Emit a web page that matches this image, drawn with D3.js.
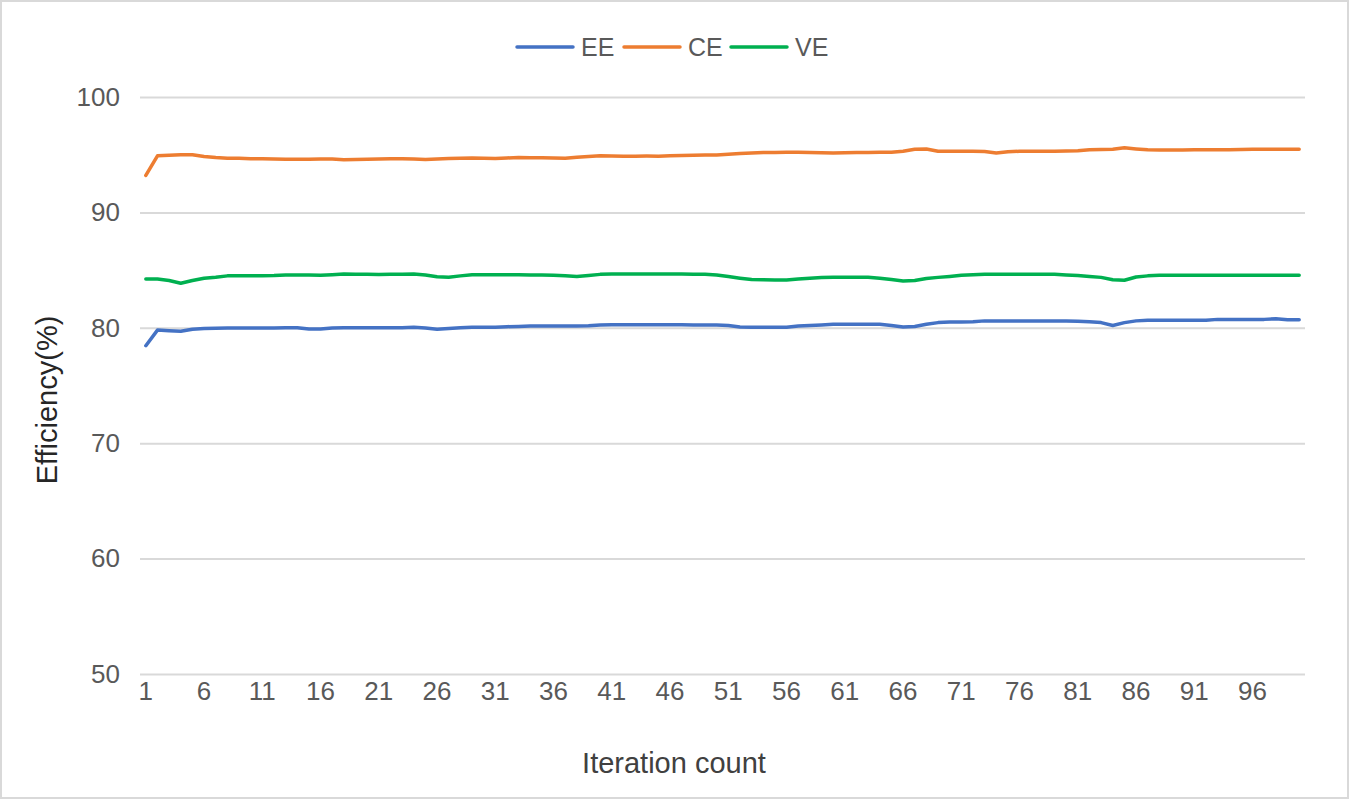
<!DOCTYPE html>
<html>
<head>
<meta charset="utf-8">
<script src="https://cdn.jsdelivr.net/npm/d3@7"></script>
<style>
  body { margin: 0; background: #fff; }
  svg { display: block; }
</style>
</head>
<body>
<svg id="chart" width="1350" height="801"></svg>
<script>
// values, iterations 1..100
var iterations = d3.range(1, 101);
var ee = [78.45, 79.8, 79.75, 79.7, 79.88, 79.93, 79.97, 79.98, 79.98, 79.98,
          79.98, 79.98, 80.0, 80.0, 79.9, 79.9, 79.98, 80.0, 80.0, 80.0,
          80.0, 80.0, 80.0, 80.05, 79.98, 79.88, 79.93, 80.0, 80.05, 80.05,
          80.05, 80.1, 80.12, 80.15, 80.15, 80.15, 80.15, 80.15, 80.17, 80.25,
          80.27, 80.27, 80.27, 80.27, 80.27, 80.27, 80.27, 80.25, 80.25, 80.25,
          80.2, 80.07, 80.05, 80.05, 80.05, 80.05, 80.15, 80.2, 80.25, 80.3,
          80.3, 80.3, 80.3, 80.3, 80.2, 80.07, 80.12, 80.3, 80.45, 80.5,
          80.5, 80.52, 80.6, 80.6, 80.6, 80.6, 80.6, 80.6, 80.6, 80.6,
          80.57, 80.52, 80.45, 80.2, 80.45, 80.6, 80.65, 80.65, 80.65, 80.65,
          80.65, 80.65, 80.73, 80.73, 80.73, 80.73, 80.73, 80.78, 80.7, 80.7];
var ce = [93.2, 94.9, 94.95, 95.0, 95.0, 94.85, 94.75, 94.7, 94.7, 94.65,
          94.65, 94.62, 94.6, 94.6, 94.6, 94.62, 94.63, 94.57, 94.58, 94.6,
          94.62, 94.64, 94.65, 94.63, 94.58, 94.62, 94.67, 94.7, 94.72, 94.7,
          94.68, 94.72, 94.75, 94.74, 94.73, 94.72, 94.7, 94.78, 94.85, 94.9,
          94.88, 94.87, 94.87, 94.88, 94.87, 94.9, 94.93, 94.95, 94.97, 94.98,
          95.03, 95.1, 95.15, 95.2, 95.2, 95.21, 95.22, 95.2, 95.17, 95.15,
          95.17, 95.2, 95.2, 95.21, 95.22, 95.3, 95.47, 95.5, 95.3, 95.3,
          95.3, 95.3, 95.28, 95.15, 95.25, 95.3, 95.3, 95.3, 95.3, 95.32,
          95.35, 95.42, 95.45, 95.47, 95.6, 95.5, 95.42, 95.4, 95.4, 95.4,
          95.42, 95.42, 95.43, 95.43, 95.44, 95.47, 95.48, 95.48, 95.48, 95.48];
var ve = [84.23, 84.23, 84.1, 83.86, 84.1, 84.3, 84.38, 84.5, 84.5, 84.52,
          84.52, 84.53, 84.57, 84.57, 84.57, 84.55, 84.6, 84.66, 84.63, 84.63,
          84.62, 84.63, 84.64, 84.66, 84.57, 84.42, 84.38, 84.5, 84.6, 84.6,
          84.6, 84.6, 84.6, 84.58, 84.57, 84.55, 84.5, 84.45, 84.53, 84.63,
          84.66, 84.66, 84.66, 84.66, 84.66, 84.66, 84.66, 84.65, 84.63, 84.58,
          84.44, 84.3, 84.18, 84.16, 84.14, 84.15, 84.23, 84.3, 84.35, 84.38,
          84.38, 84.38, 84.38, 84.3, 84.18, 84.06, 84.1, 84.27, 84.37, 84.45,
          84.55, 84.6, 84.65, 84.65, 84.65, 84.65, 84.65, 84.65, 84.63, 84.57,
          84.53, 84.45, 84.37, 84.16, 84.12, 84.4, 84.5, 84.55, 84.55, 84.55,
          84.55, 84.55, 84.56, 84.56, 84.56, 84.56, 84.56, 84.56, 84.55, 84.55];
var seriesNames = ["EE", "CE", "VE"];
var seriesColors = ["#4472C4", "#ED7D31", "#00B050"];
var yTicks = [50, 60, 70, 80, 90, 100];

var svg = d3.select("#chart");
var W = 1350, H = 801;
var plotLeft = 140, plotRight = 1305, plotTop = 97, plotBottom = 674;
var font = "'Liberation Sans', Arial, sans-serif";

// outer frame
svg.append("rect").attr("x", 1).attr("y", 1).attr("width", W - 3).attr("height", H - 4)
    .attr("fill", "#fff").attr("stroke", "#d9d9d9").attr("stroke-width", 2);

var x = d3.scaleBand().domain(iterations).range([plotLeft, plotRight]).padding(0);
var y = d3.scaleLinear().domain([50, 100]).range([plotBottom, plotTop]);

// y grid + labels
var yAxis = d3.axisLeft(y).tickValues(yTicks).tickSize(-(plotRight - plotLeft)).tickPadding(20);
var gy = svg.append("g").attr("transform", "translate(" + plotLeft + ",0)").call(yAxis);
gy.select(".domain").remove();
gy.selectAll(".tick line").attr("stroke", "#d9d9d9").attr("stroke-width", 2);
gy.selectAll(".tick text").attr("fill", "#595959").style("font-family", font)
    .style("font-size", "26px");

// x labels every 5 iterations
var xAxis = d3.axisBottom(x).tickValues(iterations.filter(function(d){ return (d - 1) % 5 == 0; }))
    .tickSize(0).tickPadding(8);
var gx = svg.append("g").attr("transform", "translate(0," + plotBottom + ")").call(xAxis);
gx.select(".domain").remove();
gx.selectAll(".tick text").attr("fill", "#595959").style("font-family", font)
    .style("font-size", "26px");

// lines
var data = [ee, ce, ve];
var line = d3.line()
    .x(function(d, i){ return x(iterations[i]) + x.bandwidth() / 2; })
    .y(function(d){ return y(d); });
svg.selectAll("path.series").data(data).enter().append("path")
    .attr("class", "series")
    .attr("d", line)
    .attr("fill", "none")
    .attr("stroke", function(d, i){ return seriesColors[i]; })
    .attr("stroke-width", 3.5)
    .attr("stroke-linejoin", "round")
    .attr("stroke-linecap", "round");

// axis titles
svg.append("text").attr("x", 674).attr("y", 773)
    .attr("text-anchor", "middle").attr("fill", "#404040")
    .style("font-family", font).style("font-size", "29px").text("Iteration count");
svg.append("text").attr("transform", "translate(57,400) rotate(-90)")
    .attr("text-anchor", "middle").attr("fill", "#262626")
    .style("font-family", font).style("font-size", "29px").text("Efficiency(%)");

// legend
var legendX = [517, 624, 731];
var lg = svg.selectAll("g.legend").data(seriesNames).enter().append("g")
    .attr("class", "legend")
    .attr("transform", function(d, i){ return "translate(" + legendX[i] + ",47)"; });
lg.append("line").attr("x1", 0).attr("x2", 56).attr("y1", 0).attr("y2", 0)
    .attr("stroke", function(d, i){ return seriesColors[i]; })
    .attr("stroke-width", 3.5).attr("stroke-linecap", "round");
lg.append("text").attr("x", 64).attr("dy", "0.36em").attr("fill", "#595959")
    .style("font-family", font).style("font-size", "25px")
    .text(function(d){ return d; });
</script>
</body>
</html>
